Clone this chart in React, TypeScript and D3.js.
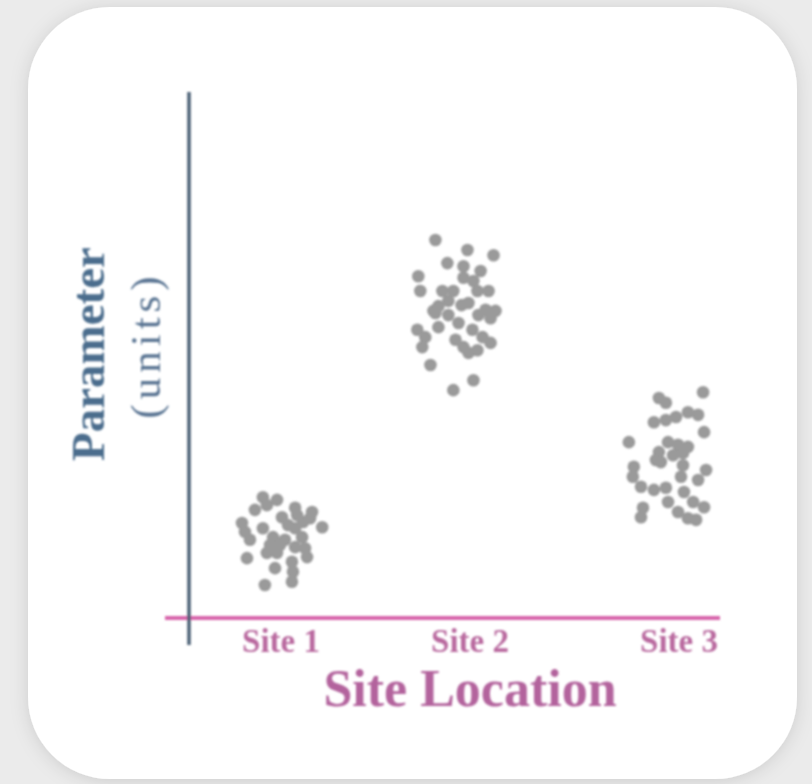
import * as React from "react";
import * as d3 from "d3";

// site categories and where their labels sit, in site units
const sites = ["Site 1", "Site 2", "Site 3"];
const siteTicks = [1, 1.95, 3];

// [x position in site units, parameter value]
const site1: [number, number][] = [
	[0.909, 23.0], [0.98, 22.5], [0.869, 20.6], [0.929, 21.5], [1.005, 19.2],
	[1.071, 21.0], [1.156, 20.2], [1.207, 17.3], [0.804, 18.1], [0.819, 16.4],
	[0.844, 14.9], [0.909, 17.1], [0.96, 15.4], [1.02, 14.9], [1.071, 17.1],
	[1.111, 18.3], [1.146, 19.0], [1.106, 15.4], [1.071, 13.5], [1.121, 13.3],
	[1.131, 11.6], [0.929, 12.4], [0.98, 12.4], [0.829, 11.4], [0.97, 9.5],
	[1.055, 10.7], [1.06, 8.8], [1.055, 6.9], [0.919, 6.3], [1.035, 17.7],
	[0.995, 13.9], [0.945, 13.9], [1.081, 19.6],
];

const site2: [number, number][] = [
	[1.776, 72.0], [1.937, 70.1], [2.068, 69.1], [1.836, 67.6], [1.917, 67.0],
	[2.003, 66.1], [1.69, 65.1], [1.917, 64.8], [1.967, 64.2], [1.7, 62.3],
	[1.811, 62.3], [1.866, 62.3], [1.987, 62.3], [2.043, 62.3], [1.942, 60.0],
	[1.791, 59.4], [1.841, 60.4], [1.766, 58.5], [2.028, 58.7], [2.078, 58.5],
	[1.776, 58.1], [1.841, 57.7], [1.791, 55.4], [1.892, 56.2], [1.992, 57.7],
	[2.053, 57.1], [1.685, 54.9], [1.725, 53.5], [1.71, 51.6], [1.877, 53.0],
	[1.917, 51.6], [1.942, 50.5], [2.013, 53.5], [2.053, 52.4], [1.987, 51.0],
	[1.962, 54.9], [1.751, 48.2], [1.967, 45.3], [1.866, 43.4], [1.907, 59.6],
];

const site3: [number, number][] = [
	[3.121, 43.0], [2.899, 41.9], [2.934, 41.0], [2.874, 37.3], [2.934, 37.7],
	[2.985, 38.3], [3.045, 39.2], [3.096, 38.7], [3.126, 35.4], [2.748, 33.5],
	[2.945, 33.5], [2.995, 33.0], [3.045, 32.6], [2.899, 31.6], [3.02, 31.4],
	[2.773, 28.8], [2.884, 30.1], [3.02, 29.1], [3.136, 28.2], [2.768, 26.9],
	[3.01, 26.9], [3.096, 26.3], [2.809, 25.0], [2.874, 24.4], [2.934, 24.8],
	[3.025, 24.0], [2.945, 22.1], [3.071, 22.1], [3.126, 21.1], [2.819, 21.0],
	[2.809, 19.2], [2.995, 20.2], [3.045, 19.0], [3.086, 18.7], [2.909, 29.7],
	[2.97, 31.0],
];

const series = [site1, site2, site3];

const yLabel = "Parameter";
const yUnits = "(units)";
const xLabel = "Site Location";

const serif = "'Liberation Serif', 'Times New Roman', serif";

function App() {
	const width = 812;
	const height = 784;

	const xScale = React.useMemo(() => d3.scaleLinear([1, 3], [281, 679]), []);
	const yScale = React.useMemo(() => d3.scaleLinear([0, 100], [618, 93]), []);

	const axisX = 189;
	const axisY = yScale(0);

	const dots: JSX.Element[] = [];
	series.forEach((pts, s) => {
		pts.forEach(([x, v], i) => {
			dots.push(
				<circle
					key={`${s}-${i}`}
					cx={xScale(x)}
					cy={yScale(v)}
					r={6.3}
					fill="#9a9a9a"
				/>
			);
		});
	});

	return (
		<svg
			width={width}
			height={height}
			style={{ position: "absolute", left: 0, top: 0 }}
		>
			<defs>
				<filter id="shadow" x="-10%" y="-10%" width="120%" height="120%">
					<feDropShadow dx="0" dy="2" stdDeviation="9" floodColor="#000" floodOpacity="0.13" />
				</filter>
				<filter id="soft">
					<feGaussianBlur stdDeviation="0.8" />
				</filter>
			</defs>
			<rect width={width} height={height} fill="#ebebeb" />
			<rect
				x={28}
				y={7}
				width={769}
				height={772}
				rx={82}
				ry={82}
				fill="#fff"
				filter="url(#shadow)"
			/>
			<g filter="url(#soft)">
				<line
					x1={165}
					x2={720}
					y1={axisY}
					y2={axisY}
					stroke="#d763aa"
					strokeWidth={4}
				/>
				<line
					x1={axisX}
					x2={axisX}
					y1={yScale(100) - 1}
					y2={axisY + 27}
					stroke="#4a5f73"
					strokeWidth={3.5}
				/>
				{dots}
				{sites.map((s, i) => (
					<text
						key={s}
						x={xScale(siteTicks[i])}
						y={652}
						textAnchor="middle"
						fontFamily={serif}
						fontWeight="bold"
						fontSize={33}
						fill="#b9699f"
					>
						{s}
					</text>
				))}
				<text
					x={470}
					y={706}
					textAnchor="middle"
					fontFamily={serif}
					fontWeight="bold"
					fontSize={52}
					fill="#b3639d"
				>
					{xLabel}
				</text>
				<text
					transform={`translate(104 ${354}) rotate(-90)`}
					textAnchor="middle"
					fontFamily={serif}
					fontWeight="bold"
					fontSize={47}
					fill="#4b6d8d"
				>
					{yLabel}
				</text>
				<text
					transform={`translate(160 ${345}) rotate(-90)`}
					textAnchor="middle"
					fontFamily={serif}
					fontSize={43}
					letterSpacing={5}
					fill="#5a7593"
				>
					{yUnits}
				</text>
			</g>
		</svg>
	);
}

export default App;
